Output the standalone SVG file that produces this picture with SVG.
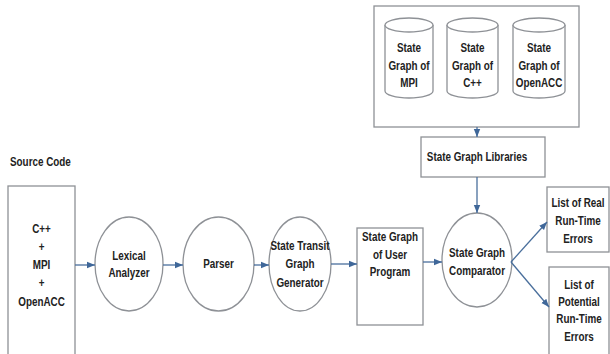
<svg xmlns="http://www.w3.org/2000/svg" width="610" height="354" viewBox="0 0 610 354">
  <style>
    .shape { fill: #ffffff; stroke: #8e9196; stroke-width: 1.3; }
    .lbl { font-family: "Liberation Sans", Arial, sans-serif; font-weight: bold; font-size: 13px; fill: #222222; text-anchor: middle; }
    .edge { fill: none; stroke: #4a6f9c; stroke-width: 1.3; }
  </style>
  <defs>
    <marker id="arrow" markerUnits="userSpaceOnUse" markerWidth="8" markerHeight="8" viewBox="0 0 8 8" refX="8" refY="4" orient="auto">
      <path d="M0,0.8 L8,4 L0,7.2 Z" fill="#3f6799"/>
    </marker>
  </defs>
  <rect width="610" height="354" fill="#ffffff"/>

  <!-- labels use a horizontally condensed sans: each text is placed with translate, then squeezed -->
  <text class="lbl" transform="translate(10,166) scale(0.76,1)" style="text-anchor:start">Source Code</text>

  <g id="source-code">
    <rect class="shape" x="8" y="186" width="67" height="180"/>
    <text class="lbl" transform="translate(41.5,233) scale(0.76,1)">C++</text>
    <text class="lbl" transform="translate(41.5,251) scale(0.76,1)">+</text>
    <text class="lbl" transform="translate(41.5,269) scale(0.76,1)">MPI</text>
    <text class="lbl" transform="translate(41.5,287) scale(0.76,1)">+</text>
    <text class="lbl" transform="translate(41.5,306) scale(0.76,1)">OpenACC</text>
  </g>

  <g id="lexical-analyzer">
    <ellipse class="shape" cx="129" cy="264" rx="34" ry="47"/>
    <text class="lbl" transform="translate(129,260) scale(0.76,1)">Lexical</text>
    <text class="lbl" transform="translate(129,277) scale(0.76,1)">Analyzer</text>
  </g>

  <g id="parser">
    <ellipse class="shape" cx="218.5" cy="264" rx="35.5" ry="47"/>
    <text class="lbl" transform="translate(218.5,268) scale(0.76,1)">Parser</text>
  </g>

  <g id="state-transit-graph-generator">
    <ellipse class="shape" cx="300" cy="264" rx="31" ry="47"/>
    <text class="lbl" transform="translate(300,250) scale(0.76,1)">State Transit</text>
    <text class="lbl" transform="translate(300,268) scale(0.76,1)">Graph</text>
    <text class="lbl" transform="translate(300,287) scale(0.76,1)">Generator</text>
  </g>

  <g id="user-program-graph">
    <rect class="shape" x="357" y="228" width="66" height="97"/>
    <text class="lbl" transform="translate(390,241) scale(0.76,1)">State Graph</text>
    <text class="lbl" transform="translate(390,259) scale(0.76,1)">of User</text>
    <text class="lbl" transform="translate(390,276) scale(0.76,1)">Program</text>
  </g>

  <g id="state-graph-comparator">
    <ellipse class="shape" cx="477" cy="260" rx="35" ry="47"/>
    <text class="lbl" transform="translate(477,257) scale(0.76,1)">State Graph</text>
    <text class="lbl" transform="translate(477,275) scale(0.76,1)">Comparator</text>
  </g>

  <g id="state-graph-libraries">
    <rect class="shape" x="421" y="137" width="124" height="40"/>
    <text class="lbl" transform="translate(477,161) scale(0.76,1)">State Graph Libraries</text>
  </g>

  <g id="library-container">
    <rect class="shape" x="374" y="6" width="205" height="121"/>
    <g id="graph-mpi">
      <path class="shape" d="M385,25 L385,91 A24,7 0 0 0 433,91 L433,25"/>
      <ellipse class="shape" cx="409" cy="25" rx="24" ry="7"/>
      <text class="lbl" transform="translate(409,52) scale(0.76,1)">State</text>
      <text class="lbl" transform="translate(409,70) scale(0.76,1)">Graph of</text>
      <text class="lbl" transform="translate(409,87) scale(0.76,1)">MPI</text>
    </g>
    <g id="graph-cpp">
      <path class="shape" d="M447,25 L447,91 A25.5,7 0 0 0 498,91 L498,25"/>
      <ellipse class="shape" cx="472.5" cy="25" rx="25.5" ry="7"/>
      <text class="lbl" transform="translate(472.5,52) scale(0.76,1)">State</text>
      <text class="lbl" transform="translate(472.5,70) scale(0.76,1)">Graph of</text>
      <text class="lbl" transform="translate(472.5,87) scale(0.76,1)">C++</text>
    </g>
    <g id="graph-openacc">
      <path class="shape" d="M513,25 L513,91 A26,7 0 0 0 565,91 L565,25"/>
      <ellipse class="shape" cx="539" cy="25" rx="26" ry="7"/>
      <text class="lbl" transform="translate(539,52) scale(0.76,1)">State</text>
      <text class="lbl" transform="translate(539,70) scale(0.76,1)">Graph of</text>
      <text class="lbl" transform="translate(539,87) scale(0.76,1)">OpenACC</text>
    </g>
  </g>

  <g id="real-errors">
    <rect class="shape" x="547" y="187" width="62" height="65"/>
    <text class="lbl" transform="translate(578,207) scale(0.76,1)">List of Real</text>
    <text class="lbl" transform="translate(578,225) scale(0.76,1)">Run-Time</text>
    <text class="lbl" transform="translate(578,243) scale(0.76,1)">Errors</text>
  </g>

  <g id="potential-errors">
    <rect class="shape" x="549" y="267" width="60" height="92"/>
    <text class="lbl" transform="translate(579,289) scale(0.76,1)">List of</text>
    <text class="lbl" transform="translate(579,306) scale(0.76,1)">Potential</text>
    <text class="lbl" transform="translate(579,323) scale(0.76,1)">Run-Time</text>
    <text class="lbl" transform="translate(579,341) scale(0.76,1)">Errors</text>
  </g>

  <g id="connectors">
    <line class="edge" x1="75" y1="265" x2="95" y2="265" marker-end="url(#arrow)"/>
    <line class="edge" x1="163" y1="265" x2="183" y2="265" marker-end="url(#arrow)"/>
    <line class="edge" x1="254" y1="265" x2="269" y2="265" marker-end="url(#arrow)"/>
    <line class="edge" x1="331" y1="264" x2="357" y2="264" marker-end="url(#arrow)"/>
    <line class="edge" x1="423" y1="262" x2="442" y2="262" marker-end="url(#arrow)"/>
    <line class="edge" x1="477" y1="127" x2="477" y2="137" marker-end="url(#arrow)"/>
    <line class="edge" x1="477" y1="177" x2="477" y2="213" marker-end="url(#arrow)"/>
    <line class="edge" x1="511" y1="262" x2="547" y2="222" marker-end="url(#arrow)"/>
    <line class="edge" x1="511" y1="262" x2="549" y2="307" marker-end="url(#arrow)"/>
  </g>
</svg>
